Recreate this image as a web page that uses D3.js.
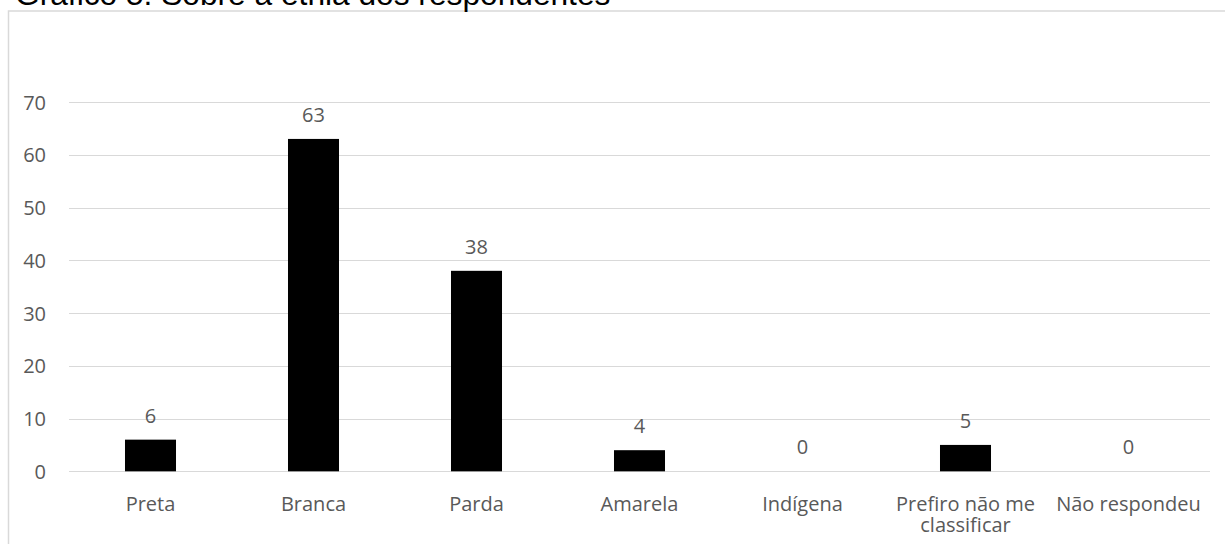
<!DOCTYPE html>
<meta charset="utf-8">

<style>
body {
  margin: 0;
  background: #fff;
}
.title {
  font-family: "Liberation Sans", Arial, sans-serif;
  font-size: 31.7px;
  fill: #000;
}
.axis text, .labels text, .cats text {
  font-family: "Open Sans";
  font-size: 20px;
  fill: #595959;
}
.grid line {
  stroke: #d9d9d9;
  stroke-width: 1px;
}
</style>
<body>
<div id="chart"></div>
</body>

<script src="https://d3js.org/d3.v7.min.js"></script>
<script>

var categories = ["Preta", "Branca", "Parda", "Amarela", "Indígena", "Prefiro não me classificar", "Não respondeu"];
var values = [6, 63, 38, 4, 0, 5, 0];
var yTicks = [0, 10, 20, 30, 40, 50, 60, 70];

var width = 1225;
var height = 544;

var svg = d3.select("#chart")
  .append("svg")
    .attr("width", width)
    .attr("height", height);

// chart frame (runs off right and bottom of the picture)
svg.append("rect")
  .attr("x", 8.5)
  .attr("y", 11)
  .attr("width", 1240)
  .attr("height", 560)
  .attr("fill", "none")
  .attr("stroke", "#d9d9d9")
  .attr("stroke-width", 1.5);

svg.append("text")
  .attr("class", "title")
  .attr("x", 15)
  .attr("y", 5)
  .text("Gráfico 5: Sobre a etnia dos respondentes");

var x = d3.scaleBand()
  .domain(categories)
  .range([69, 1210])
  .paddingInner(0.687)
  .paddingOuter(0.3435);

var y = d3.scaleLinear()
  .domain([0, 70])
  .range([471.3, 102]);

// gridlines
svg.append("g")
    .attr("class", "grid")
  .selectAll("line")
  .data(yTicks)
  .enter().append("line")
    .attr("x1", 69)
    .attr("x2", 1210)
    .attr("y1", function(d) { return Math.round(y(d)) + 0.5; })
    .attr("y2", function(d) { return Math.round(y(d)) + 0.5; });

// y axis labels
var yAxis = d3.axisLeft(y).tickValues(yTicks).tickSize(0).tickPadding(0);
var ya = svg.append("g")
  .attr("class", "axis")
  .attr("transform", "translate(46,0)")
  .call(yAxis);
ya.select(".domain").remove();
ya.selectAll("text").attr("dy", "0.35em");

// bars
svg.append("g")
  .selectAll("rect")
  .data(values)
  .enter().append("rect")
    .attr("x", function(d, i) { return x(categories[i]); })
    .attr("y", function(d) { return y(d); })
    .attr("width", x.bandwidth())
    .attr("height", function(d) { return y(0) - y(d); })
    .attr("fill", "#000");

// value labels
svg.append("g")
    .attr("class", "labels")
  .selectAll("text")
  .data(values)
  .enter().append("text")
    .attr("x", function(d, i) { return x(categories[i]) + x.bandwidth() / 2; })
    .attr("y", function(d) { return y(d) - 17; })
    .attr("text-anchor", "middle")
    .text(function(d) { return d; });

// category labels, wrapped to the band step
var step = x.step();
var cats = svg.append("g")
  .attr("class", "cats")
  .selectAll("text")
  .data(categories)
  .enter().append("text")
    .attr("x", function(d) { return x(d) + x.bandwidth() / 2; })
    .attr("y", 511)
    .attr("text-anchor", "middle")
    .text(function(d) { return d; });

cats.each(function(d) {
  var t = d3.select(this);
  var cx = t.attr("x");
  var words = d.split(" ");
  var line = [];
  var lineNo = 0;
  t.text(null);
  var tspan = t.append("tspan").attr("x", cx).attr("dy", 0);
  words.forEach(function(w) {
    line.push(w);
    tspan.text(line.join(" "));
    if (tspan.node().getComputedTextLength() > step - 8 && line.length > 1) {
      line.pop();
      tspan.text(line.join(" "));
      line = [w];
      lineNo++;
      tspan = t.append("tspan").attr("x", cx).attr("dy", "21px").text(w);
    }
  });
});

</script>
